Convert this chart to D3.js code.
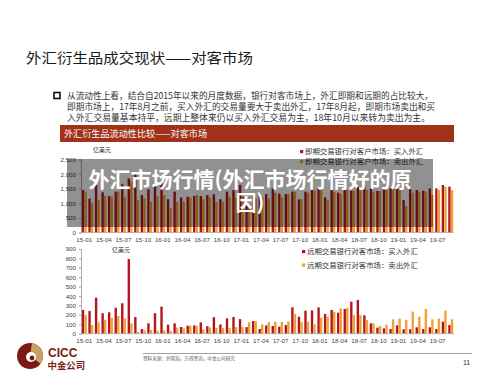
<!DOCTYPE html>
<html>
<head>
<meta charset="utf-8">
<script src="https://cdn.jsdelivr.net/npm/d3@7"></script>
<style>
  body { margin: 0; background: #fff; }
  svg { display: block; }
  text { font-family: "Liberation Sans", "Noto Sans CJK SC", sans-serif; }
  .cjk { font-family: "Noto Sans CJK SC", sans-serif; }
</style>
</head>
<body>
<div id="canvas"></div>
<script>
// months 15-01 .. 19-09
const months = [
    "15-01","15-02","15-03","15-04","15-05","15-06","15-07","15-08","15-09","15-10","15-11","15-12",
    "16-01","16-02","16-03","16-04","16-05","16-06","16-07","16-08","16-09","16-10","16-11","16-12",
    "17-01","17-02","17-03","17-04","17-05","17-06","17-07","17-08","17-09","17-10","17-11","17-12",
    "18-01","18-02","18-03","18-04","18-05","18-06","18-07","18-08","18-09","18-10","18-11","18-12",
    "19-01","19-02","19-03","19-04","19-05","19-06","19-07","19-08","19-09"
];
const monthTicks = ["15-01","15-04","15-07","15-10","16-01","16-04","16-07","16-10","17-01","17-04",
    "17-07","17-10","18-01","18-04","18-07","18-10","19-01","19-04","19-07"];

// 即期 (spot), 亿美元
const spotBuy = [1455,1160,1630,1375,1250,1400,1650,1850,2050,1284,1480,1590,
    1740,1140,1400,1200,1225,1250,1250,1280,1310,1140,1400,1450,
    1630,1010,1284,1341,1318,1512,1330,1318,1398,1136,1398,1455,
    1512,1204,1455,1364,1455,1432,1570,1570,1512,1420,1512,1512,
    1570,1113,1480,1455,1432,1512,1512,1627,1570];
const spotSell = [1400,1020,1110,1250,1225,1400,1220,1750,1100,1170,1050,1250,
    1280,830,1050,1050,1200,1290,1140,1200,1050,1050,1225,1200,
    1250,880,1170,1204,1170,1364,1204,1318,1398,1136,1364,1432,
    1455,1113,1398,1318,1455,1432,1455,1455,1398,1420,1455,1512,
    1570,907,1364,1398,1398,1284,1455,1570,1455];

// 远期 (forward), 亿美元
const fwdBuy = [252,241,383,217,227,276,323,794,177,50,110,217,
    287,96,110,71,85,88,120,80,175,98,163,178,
    155,70,135,50,88,82,75,92,280,181,245,248,
    280,209,252,223,262,340,358,195,110,64,57,50,
    89,47,47,68,50,68,50,128,92];
const fwdSell = [199,92,121,149,167,188,164,110,21,36,40,30,
    35,30,64,57,85,85,45,66,60,60,60,70,
    70,122,135,98,122,128,124,131,209,124,128,99,
    170,181,231,270,276,199,199,146,110,82,96,153,
    160,146,234,181,262,153,160,245,153];

const spotTicks = [0, 500, 1000, 1500, 2000, 2500];
const fwdTicks = [0, 100, 200, 300, 400, 500, 600, 700, 800, 900];

const spotLegend = ["即期交易银行对客户市场：买入外汇", "即期交易银行对客户市场：卖出外汇"];
const fwdLegend = ["远期交易银行对客市场：买入外汇", "远期交易银行对客市场：卖出外汇"];

const bullet = [
    "从流动性上看，结合自2015年以来的月度数据，银行对客市场上，外汇即期和远期的占比较大，",
    "即期市场上，17年8月之前，买入外汇的交易量要大于卖出外汇，17年8月起，即期市场卖出和买",
    "入外汇交易量基本持平，远期上整体来仍以买入外汇交易为主，18年10月以来转为卖出为主。"
];
const bulletWidths = [366, 368, 363];

const buyColor = "#b3171d";
const sellColor = "#f2a034";

const width = 500;
const height = 386;

const svg = d3.select("#canvas")
    .append("svg")
    .attr("width", width)
    .attr("height", height);

// title
svg.append("text")
    .attr("class", "cjk")
    .attr("x", 26).attr("y", 63)
    .attr("textLength", 227)
    .attr("lengthAdjust", "spacingAndGlyphs")
    .style("font-size", "14.2px")
    .style("fill", "#1a1a1a")
    .text("外汇衍生品成交现状——对客市场");

// bullet box + text
svg.append("rect")
    .attr("x", 54).attr("y", 92.5)
    .attr("width", 6).attr("height", 6)
    .style("fill", "none").style("stroke", "#111").style("stroke-width", 1.6);

svg.selectAll(".bullet")
    .data(bullet)
    .join("text")
    .attr("class", "cjk bullet")
    .attr("x", 67)
    .attr("y", (d, i) => 99 + i * 11)
    .attr("textLength", (d, i) => bulletWidths[i])
    .attr("lengthAdjust", "spacingAndGlyphs")
    .style("font-size", "8.6px")
    .style("fill", "#333")
    .text(d => d);

// header bar
svg.append("rect")
    .attr("x", 60).attr("y", 125)
    .attr("width", 394).attr("height", 17)
    .style("fill", "#a2311a");

svg.append("text")
    .attr("class", "cjk")
    .attr("x", 64).attr("y", 137)
    .attr("textLength", 143)
    .attr("lengthAdjust", "spacingAndGlyphs")
    .style("font-size", "8.6px")
    .style("fill", "#fff")
    .text("外汇衍生品流动性比较——对客市场");

// shared x scales
const x = d3.scaleBand()
    .domain(months)
    .range([81, 454])
    .paddingInner(0.2)
    .paddingOuter(0.1);

const xs = d3.scaleBand()
    .domain(["buy", "sell"])
    .range([0, x.bandwidth()])
    .padding(0.06);

function drawChart(cfg) {
    const y = d3.scaleLinear()
        .domain([0, cfg.max])
        .range([cfg.bottom, cfg.top]);

    const g = svg.append("g");

    const rows = months.map((m, i) => ({ m: m, buy: cfg.buy[i], sell: cfg.sell[i] }));

    const grp = g.selectAll(".month")
        .data(rows)
        .join("g")
        .attr("transform", d => `translate(${x(d.m)},0)`);

    grp.append("rect")
        .attr("x", xs("buy"))
        .attr("y", d => y(d.buy))
        .attr("width", xs.bandwidth())
        .attr("height", d => y(0) - y(d.buy))
        .style("fill", buyColor);

    grp.append("rect")
        .attr("x", xs("sell"))
        .attr("y", d => y(d.sell))
        .attr("width", xs.bandwidth())
        .attr("height", d => y(0) - y(d.sell))
        .style("fill", sellColor);

    // y axis
    const yAxis = g.append("g")
        .attr("transform", `translate(81,0)`)
        .call(d3.axisLeft(y).tickValues(cfg.ticks).tickSize(2).tickPadding(3).tickFormat(d3.format(",")));
    yAxis.select(".domain").style("stroke", "#aaa");
    yAxis.selectAll(".tick line").style("stroke", "#aaa");
    yAxis.selectAll("text")
        .style("font-size", "6.2px")
        .style("fill", "#444")
        .style("font-family", "'Liberation Sans', sans-serif");

    // baseline
    g.append("line")
        .attr("x1", 81).attr("x2", 454)
        .attr("y1", y(0)).attr("y2", y(0))
        .style("stroke", "#aaa").style("stroke-width", 0.8);

    // x labels
    g.selectAll(".xl")
        .data(monthTicks)
        .join("text")
        .attr("x", d => x(d) + x.bandwidth() / 2)
        .attr("y", y(0) + 9.5)
        .attr("text-anchor", "middle")
        .style("font-size", "6.2px")
        .style("fill", "#444")
        .text(d => d);

    // unit
    g.append("text")
        .attr("class", "cjk")
        .attr("x", cfg.unitX).attr("y", cfg.unitY)
        .style("font-size", "6px")
        .style("fill", "#333")
        .text("亿美元");

    // legend
    const colors = [buyColor, sellColor];
    const lg = g.selectAll(".lg")
        .data(cfg.legend)
        .join("g")
        .attr("transform", (d, i) => `translate(${cfg.legX},${cfg.legY + i * cfg.legGap})`);
    lg.append("rect")
        .attr("x", 0).attr("y", -3)
        .attr("width", 3.2).attr("height", 3.2)
        .style("fill", (d, i) => colors[i]);
    lg.append("text")
        .attr("class", "cjk")
        .attr("x", 5).attr("y", 1.2)
        .style("font-size", "7.4px")
        .style("fill", "#333")
        .text(d => d);
}

drawChart({
    buy: spotBuy, sell: spotSell, max: 2500, ticks: spotTicks,
    top: 159.5, bottom: 232.5,
    unitX: 93, unitY: 152,
    legend: spotLegend, legX: 300, legY: 153, legGap: 10
});

drawChart({
    buy: fwdBuy, sell: fwdSell, max: 900, ticks: fwdTicks,
    top: 249, bottom: 333.7,
    unitX: 112, unitY: 252,
    legend: fwdLegend, legX: 302, legY: 253, legGap: 13.5
});

// overlay banner
svg.append("rect")
    .attr("x", 67).attr("y", 159)
    .attr("width", 366).attr("height", 68)
    .style("fill", "#000").style("opacity", 0.43);

svg.selectAll(".banner")
    .data(["外汇市场行情(外汇市场行情好的原", "因)"])
    .join("text")
    .attr("class", "cjk banner")
    .attr("x", 250)
    .attr("y", (d, i) => 187 + i * 23)
    .attr("text-anchor", "middle")
    .style("font-size", "21px")
    .style("font-weight", "bold")
    .style("fill", "#fff")
    .text(d => d);

// footer
svg.append("line")
    .attr("x1", 143).attr("x2", 472)
    .attr("y1", 353.5).attr("y2", 353.5)
    .style("stroke", "#888").style("stroke-width", 0.8);

svg.append("text")
    .attr("class", "cjk")
    .attr("x", 143).attr("y", 360)
    .style("font-size", "4.6px")
    .style("fill", "#555")
    .text("资料来源：外管局，万得资讯，中金公司研究");

svg.append("text")
    .attr("x", 463).attr("y", 365)
    .style("font-size", "7px")
    .style("fill", "#333")
    .text("11");

// logo
const logo = svg.append("g").attr("transform", "translate(30,356)");
logo.append("circle").attr("r", 13).style("fill", "#7a1a12");
logo.append("path")
    .attr("d", d3.arc()({ innerRadius: 0, outerRadius: 13, startAngle: 0.15, endAngle: 2.2 }))
    .style("fill", "#c9a063");
logo.append("circle").attr("cx", 1).attr("cy", 1).attr("r", 5).style("fill", "#fff");
logo.append("circle").attr("cx", 2).attr("cy", 2).attr("r", 2.4).style("fill", "#7a1a12");

svg.append("text")
    .attr("x", 48).attr("y", 356.5)
    .style("font-size", "12px")
    .style("font-weight", "bold")
    .style("fill", "#7a1a12")
    .text("CICC");

svg.append("text")
    .attr("class", "cjk")
    .attr("x", 47.5).attr("y", 369)
    .style("font-size", "9.4px")
    .style("font-weight", "bold")
    .style("fill", "#7a1a12")
    .text("中金公司");
</script>
</body>
</html>
